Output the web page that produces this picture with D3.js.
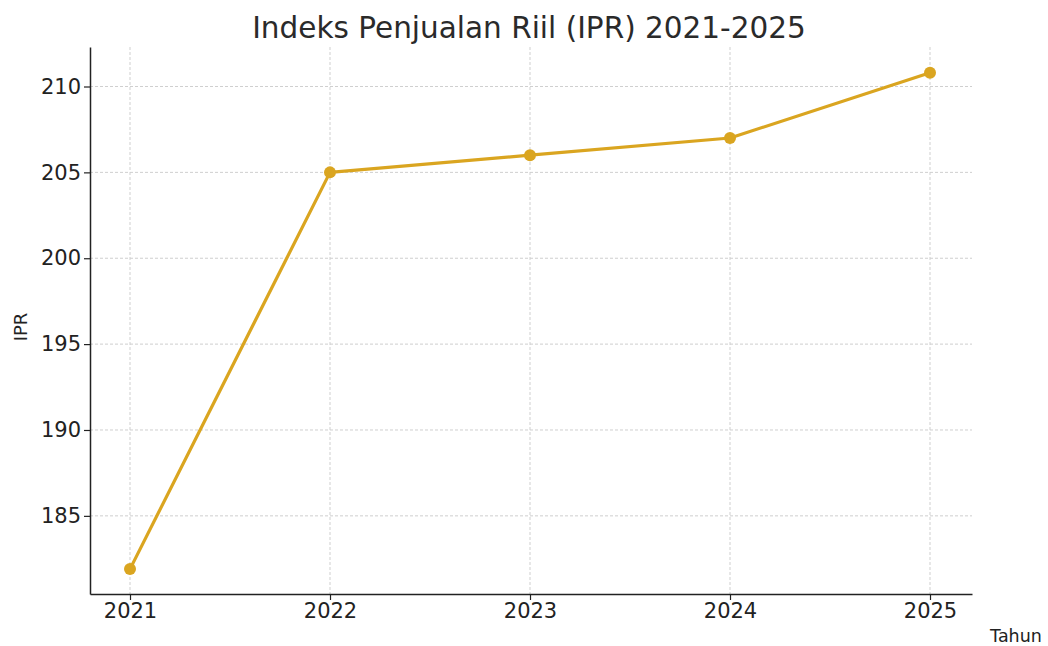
<!DOCTYPE html>
<html>
<head>
<meta charset="utf-8">
<script src="https://cdn.jsdelivr.net/npm/d3@7"></script>
<style>
  body { margin: 0; background: #fff; }
  svg { font-family: "DejaVu Sans", sans-serif; }
</style>
</head>
<body>
<svg id="chart" width="1048" height="646"></svg>
<script>
var years = [2021, 2022, 2023, 2024, 2025]
var ipr = [181.9, 205, 206, 207, 210.8]
var yTicks = [185, 190, 195, 200, 205, 210]

var dimensions = {
  width: 1048,
  height: 646,
  margin: { top: 47, bottom: 52, left: 90, right: 76 }
}

var svg = d3.select("#chart")
var lineColor = "#DAA520"

var xScale = d3.scaleLinear()
  .domain([2020.8, 2025.21])
  .range([dimensions.margin.left, dimensions.width - dimensions.margin.right])

var yScale = d3.scaleLinear()
  .domain([180.45, 212.3])
  .range([dimensions.height - dimensions.margin.bottom, dimensions.margin.top])

var x0 = dimensions.margin.left
var x1 = dimensions.width - dimensions.margin.right
var y0 = dimensions.height - dimensions.margin.bottom
var y1 = dimensions.margin.top

// grid
var grid = svg.append("g")
grid.selectAll("line.gx").data(years).enter().append("line")
  .attr("x1", d => xScale(d)).attr("x2", d => xScale(d))
  .attr("y1", y1).attr("y2", y0)
  .attr("stroke", "#cfcfcf").attr("stroke-width", 1)
  .attr("stroke-dasharray", "3,2")
grid.selectAll("line.gy").data(yTicks).enter().append("line")
  .attr("x1", x0).attr("x2", x1)
  .attr("y1", d => yScale(d)).attr("y2", d => yScale(d))
  .attr("stroke", "#cfcfcf").attr("stroke-width", 1)
  .attr("stroke-dasharray", "3,2")

// axes
var xAxisGen = d3.axisBottom(xScale).tickValues(years).tickFormat(d3.format("d")).tickSize(6).tickSizeOuter(0).tickPadding(3)
var xAxis = svg.append("g")
  .attr("transform", `translate(0,${y0})`)
  .call(xAxisGen)
var yAxisGen = d3.axisLeft(yScale).tickValues(yTicks).tickSize(6).tickSizeOuter(0).tickPadding(3)
var yAxis = svg.append("g")
  .attr("transform", `translate(${x0},0)`)
  .call(yAxisGen)

;[xAxis, yAxis].forEach(function(ax) {
  ax.selectAll("path.domain").attr("stroke", "#222").attr("stroke-width", 1.5)
  ax.selectAll(".tick line").attr("stroke", "#222").attr("stroke-width", 1.2)
  ax.selectAll(".tick text")
    .attr("fill", "#222")
    .style("font-size", "21px")
    .style("font-family", "DejaVu Sans")
})

// line + points
var line = d3.line()
  .x((d, i) => xScale(years[i]))
  .y(d => yScale(d))

svg.append("path")
  .datum(ipr)
  .attr("d", line)
  .attr("fill", "none")
  .attr("stroke", lineColor)
  .attr("stroke-width", 3.2)
  .attr("stroke-linejoin", "round")

svg.append("g")
  .selectAll("circle")
  .data(ipr)
  .enter()
  .append("circle")
  .attr("cx", (d, i) => xScale(years[i]))
  .attr("cy", d => yScale(d))
  .attr("r", 6)
  .attr("fill", lineColor)

// labels
svg.append("text")
  .text("Indeks Penjualan Riil (IPR) 2021-2025")
  .attr("x", 529)
  .attr("y", 38)
  .attr("text-anchor", "middle")
  .attr("fill", "#2a2a2a")
  .style("font-size", "29.5px")

svg.append("text")
  .text("IPR")
  .attr("text-anchor", "middle")
  .attr("fill", "#222")
  .style("font-size", "18px")
  .attr("transform", "translate(27, 327) rotate(-90)")

svg.append("text")
  .text("Tahun")
  .attr("x", 1016)
  .attr("y", 642)
  .attr("text-anchor", "middle")
  .attr("fill", "#222")
  .style("font-size", "17.5px")
</script>
</body>
</html>
